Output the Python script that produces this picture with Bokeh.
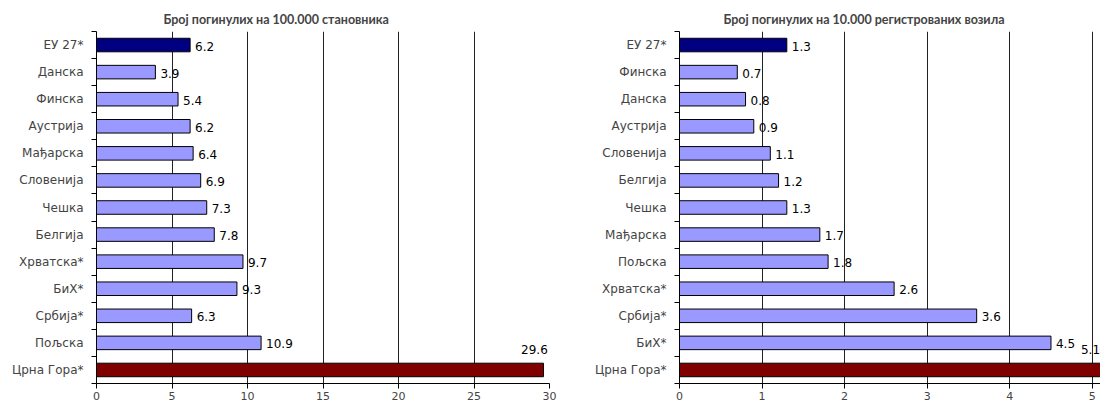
from bokeh.plotting import figure
from bokeh.layouts import row
from bokeh.models import ColumnDataSource, FixedTicker, Title
from bokeh.core.properties import value
from bokeh.embed import file_html
from bokeh.resources import INLINE

left_title = "Број погинулих на 100.000 становника"
left_cats = ["ЕУ 27*", "Данска", "Финска", "Аустрија", "Мађарска", "Словенија", "Чешка",
             "Белгија", "Хрватска*", "БиХ*", "Србија*", "Пољска", "Црна Гора*"]
left_vals = [6.2, 3.9, 5.4, 6.2, 6.4, 6.9, 7.3, 7.8, 9.7, 9.3, 6.3, 10.9, 29.6]
left_ticks = [0, 5, 10, 15, 20, 25, 30]

right_title = "Број погинулих на 10.000 регистрованих возила"
right_cats = ["ЕУ 27*", "Финска", "Данска", "Аустрија", "Словенија", "Белгија", "Чешка",
              "Мађарска", "Пољска", "Хрватска*", "Србија*", "БиХ*", "Црна Гора*"]
right_vals = [1.3, 0.7, 0.8, 0.9, 1.1, 1.2, 1.3, 1.7, 1.8, 2.6, 3.6, 4.5, 5.1]
right_ticks = [0, 1, 2, 3, 4, 5]

COL_EU = "#000080"
COL_MNE = "#800000"
COL_BAR = "#9999FF"
FONT = "DejaVu Sans"


def make_chart(title, cats, vals, ticks, xmax, width, bl, br, title_offset, last_dx):
    n = len(cats)
    ys = [n - 1 - i for i in range(n)]
    colors = [COL_EU if c.startswith("ЕУ") else (COL_MNE if c.startswith("Црна") else COL_BAR) for c in cats]
    labs = ["%.1f" % v for v in vals]
    src = ColumnDataSource(dict(y=ys, v=vals, c=colors, lab=labs))
    p = figure(width=width, height=407, x_range=(0, xmax), y_range=(-0.5, n - 0.5),
               output_backend="svg", toolbar_location=None,
               min_border_left=bl, min_border_right=br, min_border_top=31, min_border_bottom=24)
    p.outline_line_color = None
    p.background_fill_color = "white"
    p.ygrid.grid_line_color = None
    p.xgrid.grid_line_color = "#222222"
    p.xgrid.grid_line_width = 1
    p.xgrid.ticker = FixedTicker(ticks=ticks)

    p.hbar(y="y", right="v", left=0, height=0.5, fill_color="c", line_color="black",
           line_width=1, source=src)

    # value labels (last category placed above its bar)
    main = ColumnDataSource(dict(y=ys[:-1], v=vals[:-1], lab=labs[:-1]))
    p.text(x="v", y="y", text="lab", source=main, x_offset=5, y_offset=1,
           text_font=value(FONT), text_font_size="12px", text_baseline="middle",
           text_align="left", text_color="black")
    last = ColumnDataSource(dict(y=ys[-1:], v=vals[-1:], lab=labs[-1:]))
    p.text(x="v", y="y", text="lab", source=last, x_offset=last_dx, y_offset=-20,
           text_font=value(FONT), text_font_size="12px", text_baseline="middle",
           text_align="center", text_color="black")

    xa = p.xaxis[0]
    xa.ticker = FixedTicker(ticks=ticks)
    xa.axis_line_color = "black"
    xa.major_tick_line_color = "black"
    xa.major_tick_out = 5
    xa.major_tick_in = 0
    xa.minor_tick_line_color = None
    xa.major_label_text_font = FONT
    xa.major_label_text_font_size = "11px"
    xa.major_label_standoff = 3

    ya = p.yaxis[0]
    ya.ticker = FixedTicker(ticks=ys, minor_ticks=[k - 0.5 for k in range(n + 1)])
    ya.major_label_overrides = {y: c for y, c in zip(ys, cats)}
    ya.axis_line_color = "black"
    ya.major_tick_line_color = None
    ya.minor_tick_line_color = "black"
    ya.minor_tick_out = 5
    ya.minor_tick_in = 0
    ya.major_label_text_font = FONT
    ya.major_label_text_font_size = "12px"
    ya.major_label_standoff = 7

    t = Title(text=title, align="left", text_font="Lato",
              text_font_size="12.5px", text_font_style="bold", offset=title_offset, standoff=9)
    p.add_layout(t, "above")
    return p


left = make_chart(left_title, left_cats, left_vals, left_ticks, 30, 560, 96, 11, 67, -9)
right = make_chart(right_title, right_cats, right_vals, right_ticks, 5.1, 540, 119, 0, 44, -10)

lay = row(left, right)
open("out.html", "w").write(file_html(lay, INLINE))
